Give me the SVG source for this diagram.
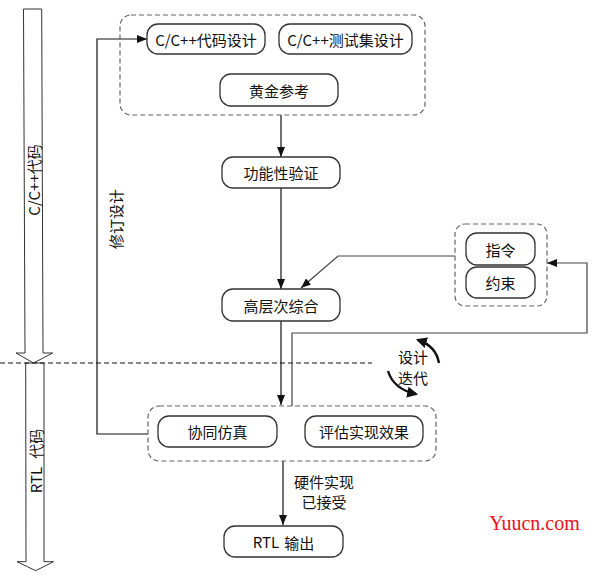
<svg xmlns="http://www.w3.org/2000/svg" width="597" height="579" viewBox="0 0 597 579">
<defs>
<style>
.node{fill:#fff;stroke:#333;stroke-width:1.3}
.grp{fill:none;stroke:#666;stroke-width:1.2;stroke-dasharray:5 3}
.t{font-family:"Noto Sans CJK SC","Noto Sans",sans-serif;font-size:15px;fill:#111;text-anchor:middle;dominant-baseline:central}
.c{fill:none;stroke:#111;stroke-width:1.2}
.c2{fill:none;stroke:#444;stroke-width:1.2}
.cur{fill:none;stroke:#111;stroke-width:2.4}
</style>
<marker id="ah" viewBox="0 0 10 8" refX="10" refY="4" markerWidth="10" markerHeight="8" markerUnits="userSpaceOnUse" orient="auto"><path d="M0,0L10,4L0,8z" fill="#111"/></marker>
<marker id="ah2" viewBox="0 0 10 10" refX="8" refY="5" markerWidth="11" markerHeight="11" markerUnits="userSpaceOnUse" orient="auto"><path d="M0,0L10,5L0,10z" fill="#111"/></marker>
</defs>

<g id="phase-arrows">
<polygon points="23.5,9 41.7,9 43,353 52.7,353 33.5,363 16,353 25,353" fill="#fff" stroke="#333" stroke-width="1"/>
<polygon points="25.7,363 44,363 44,561.7 53.5,561.7 35.7,570.7 17,561.7 26,561.7" fill="#fff" stroke="#333" stroke-width="1"/>
<text class="t" transform="translate(33,180) rotate(-90)">C/C++代码</text>
<text class="t" transform="translate(35,461) rotate(-90)">RTL<tspan dx="8">代码</tspan></text>
</g>

<line x1="0" y1="363" x2="372" y2="363" stroke="#111" stroke-width="1" stroke-dasharray="5 3"/>

<g id="connectors">
<polyline class="c" points="148,434 97,434 97,39 147,39" marker-end="url(#ah)"/>
<line class="c" x1="281" y1="115" x2="281" y2="157" marker-end="url(#ah)"/>
<line class="c" x1="281" y1="188" x2="281" y2="289" marker-end="url(#ah)"/>
<polyline class="c2" points="455,256 338,256 301,288" marker-end="url(#ah)"/>
<line class="c" x1="281" y1="321" x2="281" y2="405" marker-end="url(#ah)"/>
<polyline class="c2" points="292,406 292,333 587,333 587,263 547,263" marker-end="url(#ah)"/>
<line class="c" x1="283" y1="461" x2="283" y2="525" marker-end="url(#ah)"/>
<path class="cur" d="M439,363 C437,352 430,344 418,340" marker-end="url(#ah2)"/>
<path class="cur" d="M388,371 C392,384 402,391 416,394" marker-end="url(#ah2)"/>
</g>
<text class="t" x="324" y="481">硬件实现</text>
<text class="t" x="324" y="501">已接受</text>
<text class="t" x="413" y="356">设计</text>
<text class="t" x="413" y="377">迭代</text>
<text class="t" transform="translate(115,219) rotate(-90)">修订设计</text>

<g id="group-cpp">
<rect class="grp" x="120" y="15" width="305" height="100" rx="11"/>
</g>
<g id="node-cpp-design">
<rect class="node" x="147" y="24" width="118" height="30" rx="11"/>
<text class="t" x="206" y="39">C/C++代码设计</text>
</g>
<g id="node-cpp-test">
<rect class="node" x="279" y="24" width="133" height="30" rx="11"/>
<text class="t" x="345.5" y="39">C/C++测试集设计</text>
</g>
<g id="node-golden">
<rect class="node" x="220" y="74" width="118" height="32" rx="11"/>
<text class="t" x="279" y="90">黄金参考</text>
</g>
<g id="node-func-verify">
<rect class="node" x="222" y="157" width="118" height="31" rx="11"/>
<text class="t" x="281" y="172.5">功能性验证</text>
</g>
<g id="node-hls">
<rect class="node" x="222" y="289" width="118" height="32" rx="11"/>
<text class="t" x="281" y="305">高层次综合</text>
</g>
<g id="group-directives">
<rect class="grp" x="455" y="224" width="92" height="82" rx="10"/>
</g>
<g id="node-directive">
<rect class="node" x="466" y="233" width="69" height="32" rx="11"/>
<text class="t" x="500.5" y="249">指令</text>
</g>
<g id="node-constraint">
<rect class="node" x="466" y="267" width="69" height="31" rx="11"/>
<text class="t" x="500.5" y="282.5">约束</text>
</g>
<g id="group-sim">
<rect class="grp" x="148" y="406" width="288" height="55" rx="11"/>
</g>
<g id="node-cosim">
<rect class="node" x="158" y="416" width="119" height="31" rx="11"/>
<text class="t" x="217.5" y="431.5">协同仿真</text>
</g>
<g id="node-eval">
<rect class="node" x="305" y="416" width="118" height="31" rx="11"/>
<text class="t" x="364" y="431.5">评估实现效果</text>
</g>
<g id="node-rtl-out">
<rect class="node" x="224" y="526" width="119" height="31" rx="11"/>
<text class="t" x="283.5" y="541.5">RTL<tspan dx="5">输出</tspan></text>
</g>
<text x="534.5" y="530" font-family="Liberation Serif, serif" font-size="20" fill="#e8101a" text-anchor="middle">Yuucn.com</text>
</svg>
